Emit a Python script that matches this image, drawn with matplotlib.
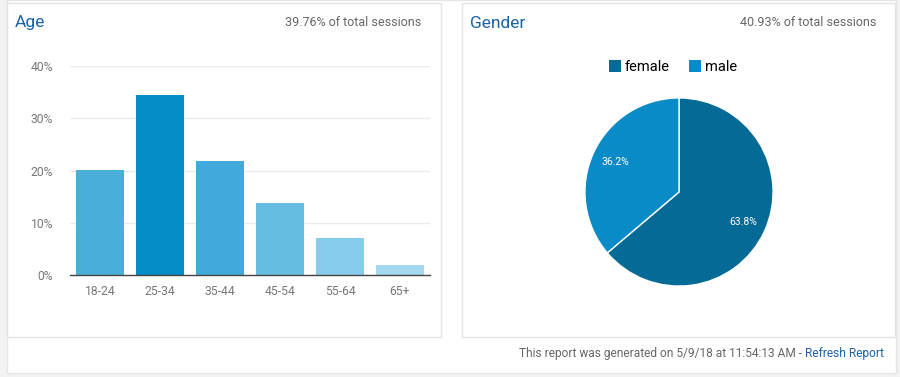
import matplotlib.pyplot as plt
from matplotlib.patches import Rectangle, Patch

plt.rcParams['font.family'] = ['Roboto', 'DejaVu Sans']

# Datos
age_groups = ['18-24', '25-34', '35-44', '45-54', '55-64', '65+']
age_share = [20.1, 34.4, 21.9, 13.7, 7.1, 2.0]
age_colors = ['#4aaed9', '#058dc7', '#40aada', '#66bde2', '#88cceb', '#a2d9f1']
y_ticks = [0, 10, 20, 30, 40]
y_labels = ['0%', '10%', '20%', '30%', '40%']

genders = ['female', 'male']
gender_share = [63.8, 36.2]
gender_colors = ['#056a96', '#088bc6']

W, H = 900, 377
fig = plt.figure(figsize=(W / 100, H / 100), dpi=100)
fig.patch.set_facecolor('#f2f2f2')


def fx(px):
    return px / W


def fy(py):
    return 1 - py / H


# Tarjeta blanca y paneles (detras de los ejes)
fig.patches.append(Rectangle((fx(7), fy(373)), fx(889), 373 / H,
                             transform=fig.transFigure, facecolor='white',
                             edgecolor='#e6e6e6', lw=1, zorder=-2))
for x0, x1 in [(7, 441), (462, 895)]:
    fig.patches.append(Rectangle((fx(x0), fy(337)), fx(x1 - x0), (337 - 3) / H,
                                 transform=fig.transFigure, facecolor='white',
                                 edgecolor='#e3e3e3', lw=1, zorder=-1))

# Titulos
fig.text(fx(15), fy(23), 'Age', fontsize=12.5, color='#1a62a6', va='center')
fig.text(fx(421), fy(22), '39.76% of total sessions', fontsize=9,
         color='#666666', ha='right', va='center')
fig.text(fx(470), fy(23), 'Gender', fontsize=12.5, color='#1a62a6', va='center')
fig.text(fx(876), fy(22), '40.93% of total sessions', fontsize=9,
         color='#666666', ha='right', va='center')

# Grafica de barras por edad
ax = fig.add_axes([fx(70), fy(275), fx(360), (275 - 66) / H])
ax.bar(range(len(age_groups)), age_share, width=0.8, color=age_colors, zorder=2)
ax.set_xlim(-0.5, len(age_groups) - 0.5)
ax.set_ylim(0, 40)
ax.set_yticks(y_ticks)
ax.set_yticklabels(y_labels)
ax.set_xticks(range(len(age_groups)))
ax.set_xticklabels(age_groups)
ax.tick_params(length=0, labelsize=8.7, labelcolor='#777777')
ax.tick_params(axis='y', pad=12)
ax.tick_params(axis='x', pad=7)
ax.grid(axis='y', color='#ebebeb', lw=1, zorder=0)
for s in ['top', 'right', 'left']:
    ax.spines[s].set_visible(False)
ax.spines['bottom'].set_color('#444444')
ax.spines['bottom'].set_linewidth(1)
ax.spines['bottom'].set_zorder(3)

# Grafica de pastel por genero
r = 95
pax = fig.add_axes([fx(679 - r), fy(192 + r), fx(2 * r), 2 * r / H])
pax.pie(gender_share, colors=gender_colors, startangle=90, counterclock=False,
        autopct='%.1f%%', pctdistance=0.75, radius=1,
        wedgeprops={'edgecolor': 'white', 'linewidth': 1},
        textprops={'color': 'white', 'fontsize': 7.5})
pax.set_xlim(-1.01, 1.01)
pax.set_ylim(-1.01, 1.01)
pax.set_aspect('equal')

handles = [Patch(facecolor=c, edgecolor='none', label=g)
           for g, c in zip(genders, gender_colors)]
fig.legend(handles=handles, loc='center', bbox_to_anchor=(fx(673), fy(67)),
           ncol=2, frameon=False, fontsize=10.5, handlelength=0.8,
           handleheight=0.8, handletextpad=0.3, columnspacing=1.3)

# Pie de pagina
t2 = fig.text(fx(884), fy(354), 'Refresh Report', fontsize=8.6, color='#1a62a6',
              ha='right', va='center')
fig.canvas.draw()
bb = t2.get_window_extent()
fig.text(bb.x0 / W, fy(354), 'This report was generated on 5/9/18 at 11:54:13 AM - ',
         fontsize=8.6, color='#666666', ha='right', va='center')

fig.savefig('out.png', dpi=100, facecolor=fig.get_facecolor())
